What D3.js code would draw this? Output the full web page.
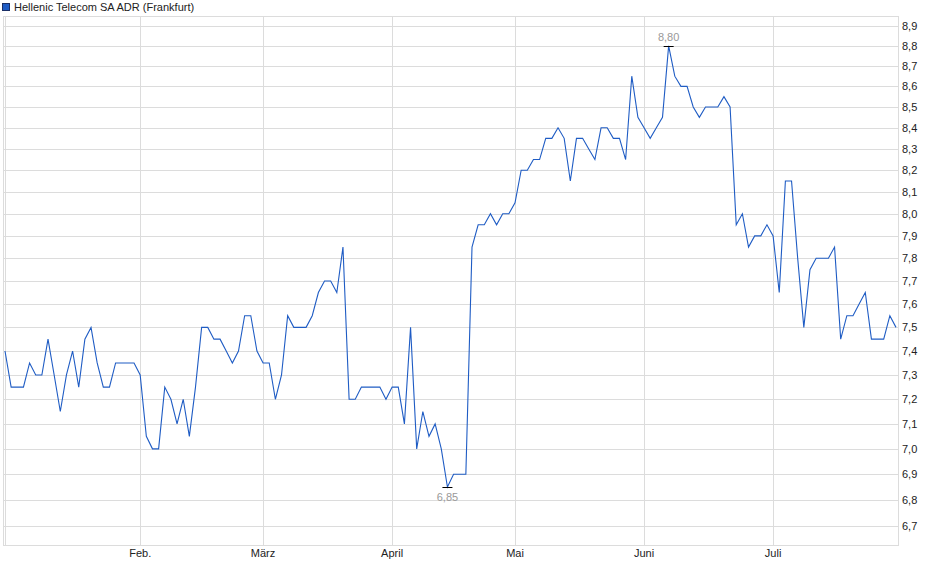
<!DOCTYPE html>
<html lang="de">
<head>
  <meta charset="utf-8"/>
  <title>Hellenic Telecom SA ADR (Frankfurt)</title>
  <script src="https://d3js.org/d3.v7.min.js"></script>
  <style>
    body { margin: 0; background: #fff; }
    text { font-family: "Liberation Sans", Arial, sans-serif; font-size: 11px; }
  </style>
</head>
<body>
  <div id="chart"></div>
  <script>
    // Schlusskurse pro Handelstag (Jan - Juli)
    var closes = [
      7.40, 7.25, 7.25, 7.25, 7.35, 7.30, 7.30, 7.45, 7.30, 7.15,
      7.30, 7.40, 7.25, 7.45, 7.50, 7.35, 7.25, 7.25, 7.35, 7.35,
      7.35, 7.35, 7.30, 7.05, 7.00, 7.00, 7.25, 7.20, 7.10, 7.20,
      7.05, 7.25, 7.50, 7.50, 7.45, 7.45, 7.40, 7.35, 7.40, 7.55,
      7.55, 7.40, 7.35, 7.35, 7.20, 7.30, 7.55, 7.50, 7.50, 7.50,
      7.55, 7.65, 7.70, 7.70, 7.65, 7.85, 7.20, 7.20, 7.25, 7.25,
      7.25, 7.25, 7.20, 7.25, 7.25, 7.10, 7.50, 7.00, 7.15, 7.05,
      7.10, 7.00, 6.85, 6.90, 6.90, 6.90, 7.85, 7.95, 7.95, 8.00,
      7.95, 8.00, 8.00, 8.05, 8.20, 8.20, 8.25, 8.25, 8.35, 8.35,
      8.40, 8.35, 8.15, 8.35, 8.35, 8.30, 8.25, 8.40, 8.40, 8.35,
      8.35, 8.25, 8.65, 8.45, 8.40, 8.35, 8.40, 8.45, 8.80, 8.65,
      8.60, 8.60, 8.50, 8.45, 8.50, 8.50, 8.50, 8.55, 8.50, 7.95,
      8.00, 7.85, 7.90, 7.90, 7.95, 7.90, 7.65, 8.15, 8.15, 7.80,
      7.50, 7.75, 7.80, 7.80, 7.80, 7.85, 7.45, 7.55, 7.55, 7.60,
      7.65, 7.45, 7.45, 7.45, 7.55, 7.50
    ];

    var monthNames = ['Feb.', 'März', 'April', 'Mai', 'Juni', 'Juli'];
    var monthStart = [22, 42, 63, 83, 104, 125];   // Index des ersten Handelstags

    var yTicks = [6.7, 6.8, 6.9, 7.0, 7.1, 7.2, 7.3, 7.4, 7.5, 7.6, 7.7, 7.8,
                  7.9, 8.0, 8.1, 8.2, 8.3, 8.4, 8.5, 8.6, 8.7, 8.8, 8.9];

    var title = 'Hellenic Telecom SA ADR (Frankfurt)';

    var width = 940, height = 579;
    var plot = { left: 3, right: 898, top: 16, bottom: 545 };

    var svg = d3.select('#chart')
                .append('svg')
                .attr('width', width)
                .attr('height', height);

    var x = d3.scaleLinear()
              .domain([0, closes.length - 1])
              .range([5, 896]);

    // logarithmische Skala wie im Original
    var y = d3.scaleLog()
              .domain([6.7, 8.9])
              .range([526, 26]);

    var fmt = d3.formatLocale({ decimal: ',', thousands: '.', grouping: [3], currency: ['', ' €'] });

    // Legende / Titel
    svg.append('rect')
       .attr('x', 2.5).attr('y', 3.5)
       .attr('width', 7).attr('height', 7)
       .attr('fill', '#1f5cc4')
       .attr('stroke', '#1a2f66');
    svg.append('text')
       .attr('x', 14).attr('y', 11)
       .attr('fill', '#222')
       .text(title);

    // Gitter
    var grid = svg.append('g').attr('stroke', '#dcdcdc').attr('shape-rendering', 'crispEdges');

    grid.selectAll('.hgrid')
        .data(yTicks)
        .enter()
        .append('line')
        .attr('x1', plot.left).attr('x2', plot.right)
        .attr('y1', d => Math.round(y(d)) + 0.5)
        .attr('y2', d => Math.round(y(d)) + 0.5);

    grid.selectAll('.vgrid')
        .data(monthStart)
        .enter()
        .append('line')
        .attr('y1', plot.top).attr('y2', plot.bottom)
        .attr('x1', d => Math.round(x(d)) + 0.5)
        .attr('x2', d => Math.round(x(d)) + 0.5);

    grid.append('line')
        .attr('x1', Math.round(x(0)) + 0.5).attr('x2', Math.round(x(0)) + 0.5)
        .attr('y1', plot.top).attr('y2', plot.bottom);

    grid.append('rect')
        .attr('x', plot.left + 0.5).attr('y', plot.top + 0.5)
        .attr('width', plot.right - plot.left).attr('height', plot.bottom - plot.top)
        .attr('fill', 'none');

    // Achsenbeschriftung
    svg.append('g')
       .selectAll('text')
       .data(yTicks)
       .enter()
       .append('text')
       .attr('x', 902)
       .attr('y', d => y(d) + 4)
       .attr('fill', '#222')
       .text(d => fmt.format('.1f')(d));

    svg.append('g')
       .selectAll('text')
       .data(monthStart)
       .enter()
       .append('text')
       .attr('x', d => x(d))
       .attr('y', 557)
       .attr('text-anchor', 'middle')
       .attr('fill', '#222')
       .text((d, i) => monthNames[i]);

    // Kurslinie
    var line = d3.line()
                 .x((d, i) => x(i))
                 .y(d => y(d));

    svg.append('path')
       .datum(closes)
       .attr('d', line)
       .attr('fill', 'none')
       .attr('stroke', '#1f5cc4')
       .attr('stroke-width', 1.1);

    // Hoch / Tief Markierung
    var hiIdx = d3.maxIndex(closes), loIdx = d3.minIndex(closes);
    var marks = [
      { i: hiIdx, v: closes[hiIdx], dy: -5 },
      { i: loIdx, v: closes[loIdx], dy: 14 }
    ];

    var mk = svg.append('g');
    mk.selectAll('line')
      .data(marks)
      .enter()
      .append('line')
      .attr('x1', d => x(d.i) - 5).attr('x2', d => x(d.i) + 5)
      .attr('y1', d => Math.round(y(d.v)) + 0.5)
      .attr('y2', d => Math.round(y(d.v)) + 0.5)
      .attr('stroke', '#000');

    mk.selectAll('text')
      .data(marks)
      .enter()
      .append('text')
      .attr('x', d => x(d.i))
      .attr('y', d => y(d.v) + d.dy)
      .attr('text-anchor', 'middle')
      .attr('fill', '#999')
      .text(d => fmt.format('.2f')(d.v));
  </script>
</body>
</html>
